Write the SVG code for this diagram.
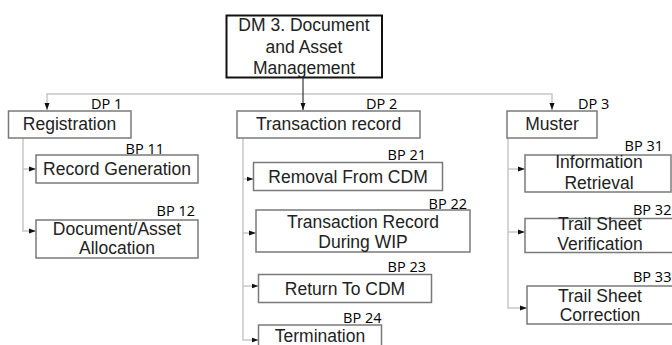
<svg xmlns="http://www.w3.org/2000/svg" width="672" height="345" viewBox="0 0 672 345">
<style>
.box{fill:#fff;stroke:#7a7a7a;stroke-width:1.5}
.main{fill:#fff;stroke:#111;stroke-width:2}
.t{font-family:"Liberation Sans",Arial,sans-serif;font-size:17.5px;fill:#222;text-anchor:middle}
.lb{font-family:"Open Sans","Noto Sans",sans-serif;font-size:14.5px;fill:#000}
.c{fill:none;stroke:#c8c8c8;stroke-width:1.5}
.ck{fill:none;stroke:#111;stroke-width:1}
</style>
<defs>
<marker id="ah" markerUnits="userSpaceOnUse" markerWidth="7" markerHeight="6" refX="7" refY="3" orient="auto">
<path d="M0,0.5 L7,3 L0,5.5 z" fill="#111"/>
</marker>
</defs>
<rect width="672" height="345" fill="#fff"/>
<g id="connectors">
<path class="c" d="M303,94 H47 V110" marker-end="url(#ah)"/>
<path class="c" d="M303,94 H552 V110" marker-end="url(#ah)"/>
<path class="ck" d="M303,78 V110" marker-end="url(#ah)"/>
<path class="c" d="M23,138 V169 H36" marker-end="url(#ah)"/>
<path class="c" d="M23,169 V231 H36" marker-end="url(#ah)"/>
<path class="c" d="M243,138 V179 H253.5" marker-end="url(#ah)"/>
<path class="c" d="M243,179 V233 H256" marker-end="url(#ah)"/>
<path class="c" d="M243,233 V286 H258.5" marker-end="url(#ah)"/>
<path class="c" d="M243,286 V340 H258.5" marker-end="url(#ah)"/>
<path class="c" d="M508,138 V169 H525" marker-end="url(#ah)"/>
<path class="c" d="M508,169 V232 H525" marker-end="url(#ah)"/>
<path class="c" d="M508,232 V308 H527" marker-end="url(#ah)"/>
</g>
<g id="dm3">
<rect class="main" x="226.5" y="15.5" width="155.5" height="62"/>
<text class="t" x="304" y="31">DM 3. Document</text>
<text class="t" x="304" y="52.5">and Asset</text>
<text class="t" x="304" y="73.5">Management</text>
</g>
<g id="dp1">
<rect class="box" x="8.5" y="111" width="122.5" height="27"/>
<text class="t" x="69.5" y="130">Registration</text>
<text class="lb" x="91" y="109">DP 1</text>
</g>
<g id="dp2">
<rect class="box" x="237" y="111" width="183" height="27"/>
<text class="t" x="328.5" y="130">Transaction record</text>
<text class="lb" x="366" y="109">DP 2</text>
</g>
<g id="dp3">
<rect class="box" x="507" y="111" width="90" height="27"/>
<text class="t" x="552" y="130">Muster</text>
<text class="lb" x="578" y="109">DP 3</text>
</g>
<g id="bp11">
<rect class="box" x="36" y="155" width="162" height="28"/>
<text class="t" x="117" y="174.5">Record Generation</text>
<text class="lb" x="164" y="154" text-anchor="end">BP 11</text>
</g>
<g id="bp12">
<rect class="box" x="36" y="220" width="162" height="38"/>
<text class="t" x="117" y="234.5">Document/Asset</text>
<text class="t" x="117" y="253.5">Allocation</text>
<text class="lb" x="195" y="216" text-anchor="end">BP 12</text>
</g>
<g id="bp21">
<rect class="box" x="253.5" y="162.5" width="189" height="28"/>
<text class="t" x="348" y="182.5">Removal From CDM</text>
<text class="lb" x="426" y="160" text-anchor="end">BP 21</text>
</g>
<g id="bp22">
<rect class="box" x="256" y="210" width="214" height="42"/>
<text class="t" x="363" y="227.5">Transaction Record</text>
<text class="t" x="363" y="247.5">During WIP</text>
<text class="lb" x="467" y="209" text-anchor="end">BP 22</text>
</g>
<g id="bp23">
<rect class="box" x="258.5" y="274.5" width="173" height="28"/>
<text class="t" x="345" y="295">Return To CDM</text>
<text class="lb" x="426" y="271.5" text-anchor="end">BP 23</text>
</g>
<g id="bp24">
<rect class="box" x="258.5" y="325" width="123" height="30"/>
<text class="t" x="320" y="342">Termination</text>
<text class="lb" x="381.5" y="322.5" text-anchor="end">BP 24</text>
</g>
<g id="bp31">
<rect class="box" x="525" y="155" width="146" height="37"/>
<text class="t" x="599" y="167.5">Information</text>
<text class="t" x="599" y="188.5">Retrieval</text>
<text class="lb" x="663" y="151" text-anchor="end">BP 31</text>
</g>
<g id="bp32">
<rect class="box" x="525" y="218.5" width="150" height="34"/>
<text class="t" x="600" y="230">Trail Sheet</text>
<text class="t" x="600" y="250">Verification</text>
<text class="lb" x="633" y="215">BP 32</text>
</g>
<g id="bp33">
<rect class="box" x="527" y="286" width="150" height="38"/>
<text class="t" x="600" y="301.5">Trail Sheet</text>
<text class="t" x="600" y="321">Correction</text>
<text class="lb" x="633" y="281.5">BP 33</text>
</g>
</svg>
